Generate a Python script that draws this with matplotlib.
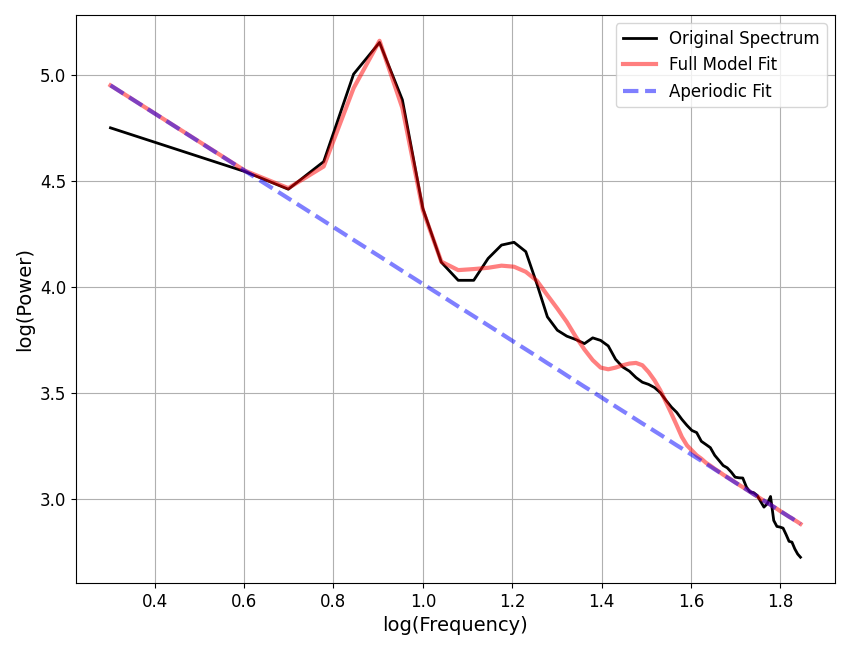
import numpy as np
import matplotlib
matplotlib.use("Agg")
import matplotlib.pyplot as plt

freqs = [2, 4, 5, 6, 7, 8, 9, 10, 11, 12, 13, 14, 15, 16, 17, 18, 19, 20,
         21, 22, 23, 24, 25, 26, 27, 28, 29, 30, 31, 32, 33, 34, 35, 36, 37,
         38, 39, 40, 41, 42, 43, 44, 45, 46, 47, 48, 49, 50, 51, 52, 53, 54,
         55, 56, 57, 58, 59, 60, 61, 62, 63, 64, 65, 66, 67, 68, 69, 70]

original_spectrum = [4.750, 4.544, 4.461, 4.591, 5.003, 5.152, 4.882, 4.371,
                     4.117, 4.032, 4.032, 4.135, 4.198, 4.211, 4.167, 4.015,
                     3.860, 3.797, 3.769, 3.753, 3.734, 3.761, 3.749, 3.723,
                     3.660, 3.624, 3.604, 3.574, 3.552, 3.542, 3.527, 3.503,
                     3.467, 3.435, 3.410, 3.377, 3.349, 3.325, 3.315, 3.274,
                     3.259, 3.244, 3.208, 3.184, 3.160, 3.149, 3.129, 3.105,
                     3.102, 3.101, 3.058, 3.035, 3.032, 3.019, 2.991, 2.964,
                     2.980, 3.014, 2.901, 2.873, 2.870, 2.865, 2.835, 2.803,
                     2.799, 2.767, 2.743, 2.728]

full_model_fit = [4.950, 4.548, 4.466, 4.568, 4.937, 5.160, 4.843, 4.363,
                  4.120, 4.080, 4.085, 4.091, 4.101, 4.096, 4.072, 4.030,
                  3.962, 3.899, 3.836, 3.766, 3.706, 3.656, 3.621, 3.613,
                  3.621, 3.632, 3.640, 3.643, 3.632, 3.600, 3.561, 3.514,
                  3.459, 3.404, 3.349, 3.294, 3.255, 3.231, 3.208, 3.192,
                  3.173, 3.159, 3.144, 3.131, 3.117, 3.105, 3.093, 3.081,
                  3.069, 3.058, 3.047, 3.036, 3.025, 3.015, 3.004, 2.994,
                  2.984, 2.975, 2.965, 2.956, 2.946, 2.937, 2.928, 2.919,
                  2.911, 2.902, 2.894, 2.885]

aperiodic_fit = [4.950, 4.547, 4.418, 4.312, 4.222, 4.145, 4.076, 4.015,
                 3.960, 3.909, 3.863, 3.820, 3.780, 3.742, 3.707, 3.674,
                 3.642, 3.613, 3.584, 3.557, 3.531, 3.507, 3.483, 3.460,
                 3.438, 3.417, 3.397, 3.377, 3.358, 3.340, 3.322, 3.305,
                 3.288, 3.271, 3.255, 3.240, 3.225, 3.210, 3.196, 3.182,
                 3.168, 3.155, 3.142, 3.129, 3.116, 3.104, 3.092, 3.080,
                 3.069, 3.058, 3.047, 3.036, 3.025, 3.015, 3.004, 2.994,
                 2.984, 2.975, 2.965, 2.956, 2.946, 2.937, 2.928, 2.919,
                 2.911, 2.902, 2.894, 2.885]

log_freqs = np.log10(freqs)

fig = plt.figure(figsize=(8.5, 6.5), dpi=100)
ax = fig.add_axes([0.0894, 0.103, 0.8929, 0.874])

ax.plot(log_freqs, original_spectrum, color="black", linewidth=2,
        label="Original Spectrum")
ax.plot(log_freqs, full_model_fit, color="red", alpha=0.5, linewidth=3,
        label="Full Model Fit")
ax.plot(log_freqs, aperiodic_fit, color="blue", alpha=0.5, linewidth=3,
        linestyle="--", label="Aperiodic Fit")

ax.grid(True)
ax.set_xlabel("log(Frequency)", fontsize=14)
ax.set_ylabel("log(Power)", fontsize=14)
ax.tick_params(labelsize=12)
ax.legend(fontsize=12, loc="upper right")

fig.savefig("out.png", dpi=100)
